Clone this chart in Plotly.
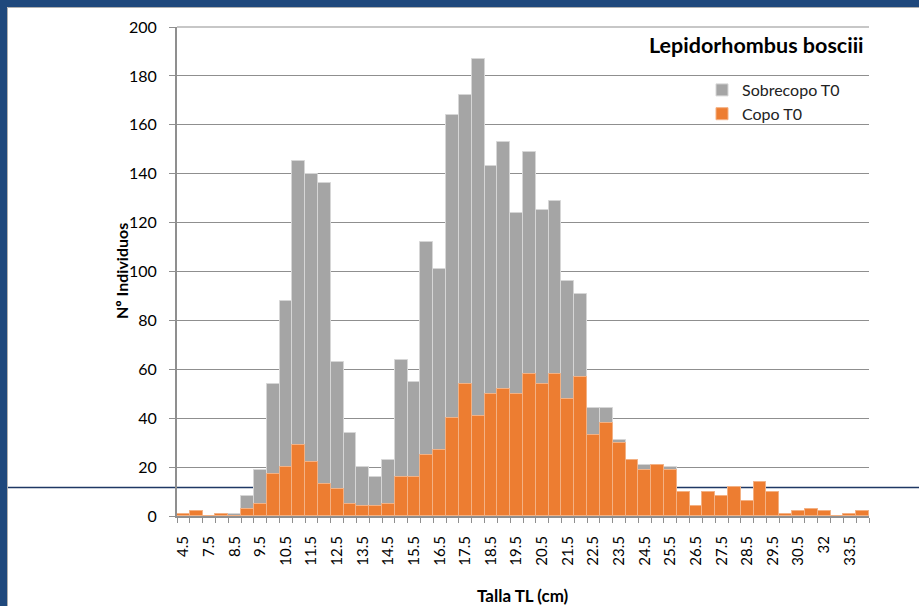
import plotly.graph_objects as go

categories = ["4.5", "5", "7.5", "8", "8.5", "9", "9.5", "10", "10.5", "11",
              "11.5", "12", "12.5", "13", "13.5", "14", "14.5", "15", "15.5", "16",
              "16.5", "17", "17.5", "18", "18.5", "19", "19.5", "20", "20.5", "21",
              "21.5", "22", "22.5", "23", "23.5", "24", "24.5", "25", "25.5", "26",
              "26.5", "27", "27.5", "28", "28.5", "29", "29.5", "30", "30.5", "31",
              "32", "33", "33.5", "34"]

sobrecopo = [1, 2, 0, 1, 1, 8, 19, 54, 88, 145,
             140, 136, 63, 34, 20, 16, 23, 64, 55, 112,
             101, 164, 172, 187, 143, 153, 124, 149, 125, 129,
             96, 91, 44, 44, 31, 23, 21, 21, 20, 10,
             4, 10, 8, 12, 6, 14, 10, 1, 2, 3,
             2, 0, 1, 2]

copo = [1, 2, 0, 1, 0, 3, 5, 17, 20, 29,
        22, 13, 11, 5, 4, 4, 5, 16, 16, 25,
        27, 40, 54, 41, 50, 52, 50, 58, 54, 58,
        48, 57, 33, 38, 30, 23, 19, 21, 19, 10,
        4, 10, 8, 12, 6, 14, 10, 1, 2, 3,
        2, 0, 1, 2]

tick_labels = [c if i % 2 == 0 else "" for i, c in enumerate(categories)]

W, H = 919, 606
ML, MR, MT, MB = 177, 50, 27, 90
PW = W - ML - MR
PH = H - MT - MB


def px(x):
    return (x - ML) / PW


def py(y):
    return (H - MB - y) / PH


FONT = "Lato, 'Open Sans', sans-serif"
GRID = "#8F8F8F"

fig = go.Figure()
fig.add_trace(go.Bar(
    x=categories, y=sobrecopo, name="Sobrecopo T0",
    marker=dict(color="#A5A5A5", line=dict(color="#D6D6D6", width=1)),
    opacity=1,
))
fig.add_trace(go.Bar(
    x=categories, y=copo, name="Copo T0",
    marker=dict(color="#ED7D31", line=dict(color="#F4B183", width=1)),
    opacity=1,
))

shapes = [
    # dark blue frame
    dict(type="rect", xref="paper", yref="paper", x0=px(0), x1=px(W), y0=py(7), y1=py(0),
         fillcolor="#1F487C", line=dict(width=0), layer="above"),
    dict(type="rect", xref="paper", yref="paper", x0=px(0), x1=px(7), y0=py(H), y1=py(0),
         fillcolor="#1F487C", line=dict(width=0), layer="above"),
    dict(type="line", xref="paper", yref="paper", x0=px(7.5), x1=px(W), y0=py(7.5), y1=py(7.5),
         line=dict(color="#B0B0B0", width=1), layer="above"),
    dict(type="line", xref="paper", yref="paper", x0=px(7.5), x1=px(7.5), y0=py(H), y1=py(7.5),
         line=dict(color="#B0B0B0", width=1), layer="above"),
    # top gridline (200)
    dict(type="line", xref="paper", yref="paper", x0=0, x1=1, y0=1, y1=1,
         line=dict(color=GRID, width=1.2), layer="below"),
    # navy line crossing the page behind the chart
    dict(type="line", xref="paper", yref="paper", x0=px(8), x1=px(W), y0=py(487.5), y1=py(487.5),
         line=dict(color="#1F3864", width=1.3), layer="below"),
]

annotations = [
    dict(text="<b>Lepidorhombus bosciii</b>", xref="paper", yref="paper",
         x=px(866), y=py(45), xanchor="right", yanchor="middle", showarrow=False,
         font=dict(family=FONT, size=21.5, color="#000000")),
    dict(text="<b>Nº Individuos</b>", xref="paper", yref="paper",
         x=px(121), y=py(271), xanchor="center", yanchor="middle", showarrow=False,
         textangle=-90, font=dict(family=FONT, size=16, color="#000000")),
    dict(text="<b>Talla TL (cm)</b>", xref="paper", yref="paper",
         x=px(523), y=py(595), xanchor="center", yanchor="middle", showarrow=False,
         font=dict(family=FONT, size=17, color="#000000")),
]

fig.update_layout(
    width=W, height=H,
    margin=dict(l=ML, r=MR, t=MT, b=MB, pad=0),
    paper_bgcolor="white", plot_bgcolor="white",
    barmode="overlay", bargap=0,
    font=dict(family=FONT, size=14, color="#000000"),
    showlegend=True,
    legend=dict(x=px(702), y=py(73), xanchor="left", yanchor="top",
                bgcolor="rgba(0,0,0,0)", font=dict(family=FONT, size=16, color="#222222"),
                itemwidth=30, tracegroupgap=0),
    shapes=shapes,
    annotations=annotations,
)

fig.update_xaxes(
    type="category", categoryorder="array", categoryarray=categories,
    tickmode="array", tickvals=categories, ticktext=tick_labels,
    tickangle=-90, tickson="boundaries",
    ticks="outside", ticklen=5, tickcolor=GRID, tickwidth=1,
    ticklabelstandoff=12,
    showline=True, linecolor=GRID, linewidth=2,
    showgrid=False, tickfont=dict(family=FONT, size=15, color="#000000"),
)
fig.update_yaxes(
    range=[0, 200], tickmode="linear", tick0=0, dtick=20,
    ticks="outside", ticklen=6, tickcolor=GRID, tickwidth=1,
    ticklabelstandoff=9,
    showline=True, linecolor=GRID, linewidth=2,
    showgrid=True, gridcolor=GRID, gridwidth=1.2, zeroline=False,
    tickfont=dict(family=FONT, size=16, color="#000000"),
)

fig.write_html("out.html", config={"displayModeBar": False},
               post_script="document.body.style.margin='0px';")
